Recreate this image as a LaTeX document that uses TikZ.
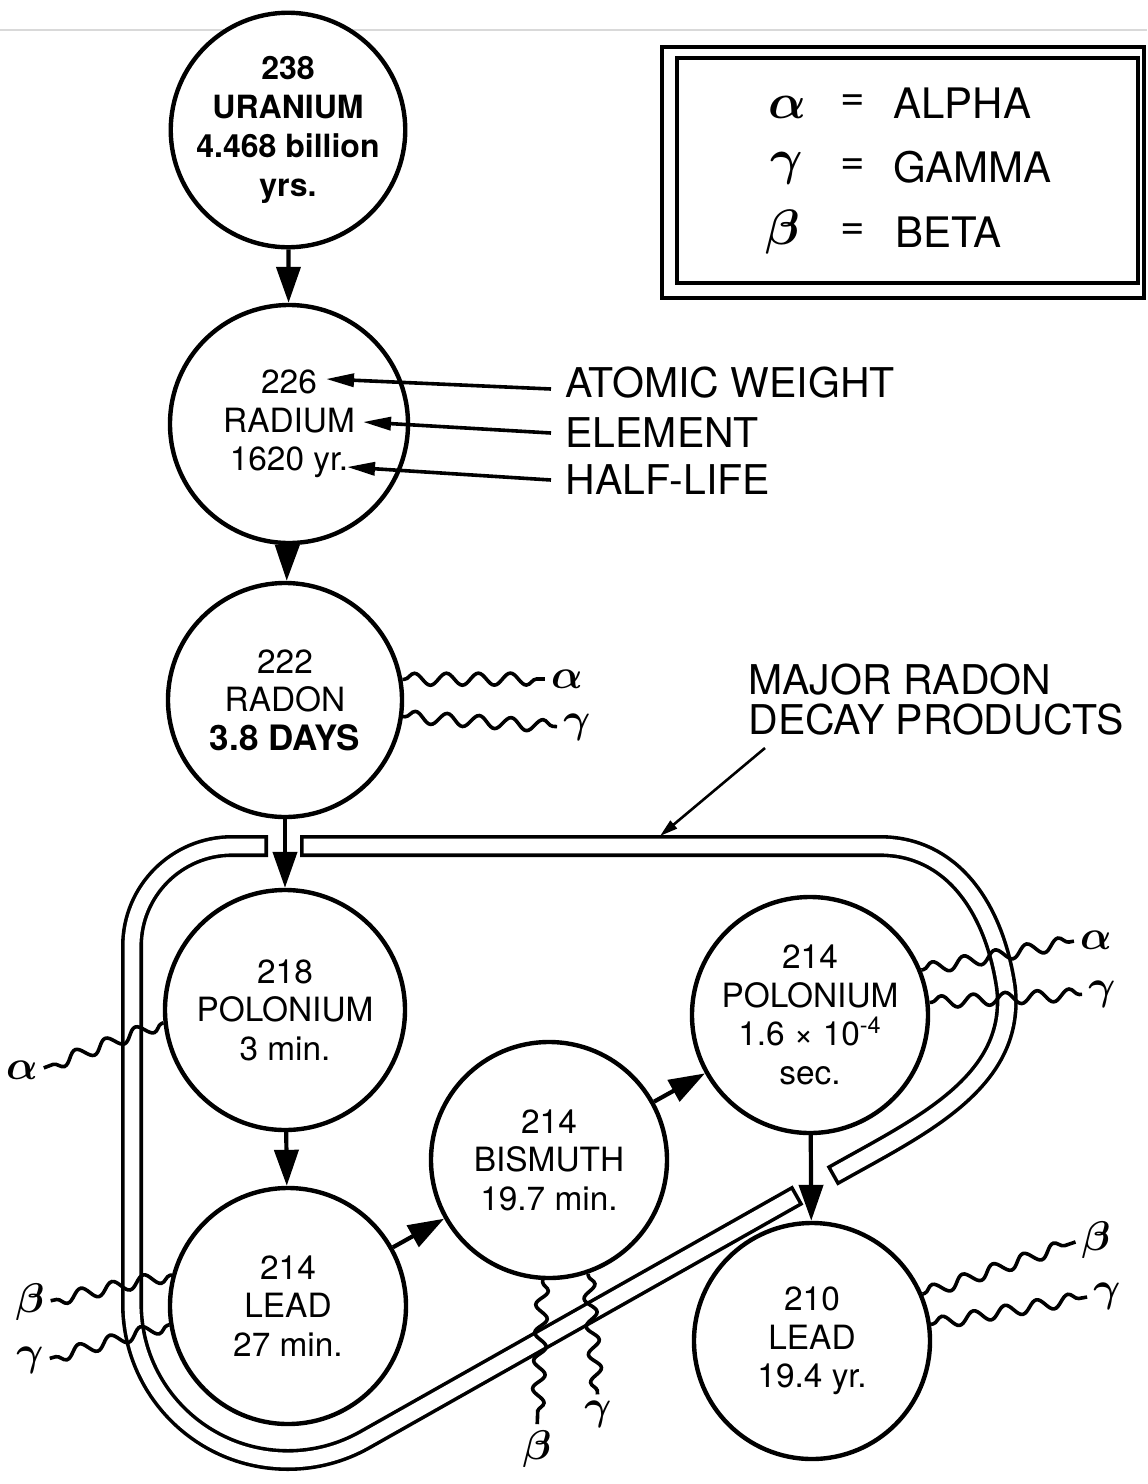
\documentclass[tikz,border=0pt]{standalone}
\usepackage{fontspec}
\setmainfont{TeX Gyre Heros}
\usetikzlibrary{arrows.meta,decorations.pathmorphing}
\newcommand{\ralpha}{{\boldmath$\alpha$}}
\newcommand{\rbeta}{{\boldmath$\beta$}}
\newcommand{\rgamma}{{\boldmath$\gamma$}}
\begin{document}
\begin{tikzpicture}[x=0.5pt,y=-0.5pt,
  nuc/.style={circle,draw,line width=2.2pt,fill=white,minimum size=118pt,inner sep=0pt,align=center,
    font=\fontsize{16.7}{19.3}\selectfont},
  arr/.style={line width=2.1pt,-{Triangle[length=18pt,width=12pt]}},
  leadarr/.style={line width=1.8pt,-{Triangle[length=14pt,width=6.5pt]}},
  smallarr/.style={line width=1.3pt,-{Triangle[length=9pt,width=5pt]}},
  wavy/.style={line width=1.8pt,decorate,decoration={snake,segment length=16pt,amplitude=3pt,pre length=1pt,post length=3pt},shorten >=3pt},
  lbl/.style={font=\fontsize{20.5}{20}\selectfont,anchor=west,inner xsep=7pt,inner ysep=0pt},
  grk/.style={font=\fontsize{22}{22}\selectfont,inner sep=0pt},
  grkbig/.style={font=\fontsize{44}{44}\selectfont,inner sep=0pt},
  legtxt/.style={font=\fontsize{21}{21}\selectfont,inner sep=0pt},
  bandout/.style={draw=black,line width=11pt},
  bandin/.style={draw=white,line width=7.4pt,shorten <=1.8pt,shorten >=1.8pt},
]
\useasboundingbox (0,0) rectangle (1147,1484);
\draw[gray!30,line width=0.8pt] (0,30) -- (1147,30);

% ---- decay-product band ----
\path[bandout] (268,846) -- (232,846) .. controls (176.8,846) and (132,890.8) .. (132,946) -- (132,1304)
  .. controls (132,1390.2) and (201.8,1460) .. (288,1460) .. controls (314.9,1460) and (341.3,1453) .. (364.7,1439.8) -- (798,1195);
\path[bandin] (268,846) -- (232,846) .. controls (176.8,846) and (132,890.8) .. (132,946) -- (132,1304)
  .. controls (132,1390.2) and (201.8,1460) .. (288,1460) .. controls (314.9,1460) and (341.3,1453) .. (364.7,1439.8) -- (798,1195);
\path[bandout] (832,1176) -- (842,1170.4) .. controls (925,1124) and (1016,1080) .. (1006,988) .. controls (994,905) and (950,846) .. (880,846) -- (300,846);
\path[bandin] (832,1176) -- (842,1170.4) .. controls (925,1124) and (1016,1080) .. (1006,988) .. controls (994,905) and (950,846) .. (880,846) -- (300,846);

% ---- nuclides ----
\node[nuc,font=\bfseries\fontsize{16}{19.5}\selectfont,minimum size=116pt] (u238) at (288,130) {238\\URANIUM\\4.468 billion\\yrs.};
\node[nuc,minimum size=119pt] (ra226) at (289,424) {226\\RADIUM\\1620 yr.};
\node[nuc,minimum size=117pt] (rn222) at (285,700) {222\\RADON\\{\bfseries\fontsize{17.5}{19.3}\selectfont 3.8 DAYS}};
\node[nuc,minimum size=120pt] (po218) at (285,1010) {218\\POLONIUM\\3 min.};
\node[nuc] (pb214) at (288,1306) {214\\LEAD\\27 min.};
\node[nuc] (bi214) at (549,1160) {214\\BISMUTH\\19.7 min.};
\node[nuc] (po214) at (810,1015) {214\\POLONIUM\\1.6 × 10\textsuperscript{-4}\\sec.};
\node[nuc] (pb210) at (812,1341) {210\\LEAD\\19.4 yr.};

% ---- decay arrows ----
\draw[arr] (u238) -- (ra226);
\draw[arr] (ra226) -- (rn222);
\draw[arr] (rn222) -- (po218);
\draw[arr] (po218) -- (pb214);
\draw[arr] (pb214) -- (bi214);
\draw[arr] (bi214) -- (po214);
\draw[arr] (po214) -- (pb210);

% ---- legend ----
\draw[line width=2.2pt] (662,47) rectangle (1144,298);
\draw[line width=1.8pt] (677,58) rectangle (1138,283);
\node[grkbig] (lga) at (787,107) {\ralpha};
\node[grkbig] (lgg) at (787,168) {\rgamma};
\node[grkbig] (lgb) at (783,232) {\rbeta};
\node[legtxt] (eqa) at (853,103) {=};
\node[legtxt] (eqg) at (853,167) {=};
\node[legtxt] (eqb) at (853,232) {=};
\node[legtxt,anchor=west] (wa) at (893,103) {ALPHA};
\node[legtxt,anchor=west] (wg) at (893,167) {GAMMA};
\node[legtxt,anchor=west] (wb) at (895,232) {BETA};

% ---- key labels ----
\node[lbl] (aw) at (551,383) {ATOMIC WEIGHT};
\node[lbl] (el) at (551,433) {ELEMENT};
\node[lbl] (hl) at (551,480) {HALF-LIFE};
\coordinate (tAW) at (326,379);
\coordinate (tEL) at (363,422);
\coordinate (tHL) at (347,467);
\draw[leadarr] ([yshift=-3pt]aw.west) -- (tAW);
\draw[leadarr] (el.west) -- (tEL);
\draw[leadarr] (hl.west) -- (tHL);

\node[lbl,align=left,inner xsep=0pt] (mr) at (748,700) {MAJOR RADON\\DECAY PRODUCTS};
\coordinate (mrtail) at (765,748);
\coordinate (mrtip) at (660,836);
\draw[smallarr] (mrtail) -- (mrtip);

% ---- emitted radiation ----
\node[grk] (rna) at (567,679) {\ralpha};
\node[grk] (rng) at (577,727) {\rgamma};
\draw[wavy] (rn222.10) -- (rna.west);
\draw[wavy] (rn222.-8) -- (rng.west);

\node[grk] (p18a) at (22,1070) {\ralpha};
\draw[wavy] (po218.186) -- (p18a.east);

\node[grk] (p14b) at (30,1302) {\rbeta};
\node[grk] (p14g) at (30,1360) {\rgamma};
\draw[wavy] (pb214.165) -- (p14b.east);
\draw[wavy] (pb214.189) -- (p14g.east);

\node[grk] (bib) at (537,1449) {\rbeta};
\node[grk] (big) at (598,1414) {\rgamma};
\draw[wavy,decoration={segment length=14pt}] (bi214.267) -- (bib.north);
\draw[wavy,decoration={segment length=14pt}] (bi214.289) -- (big.north);

\node[grk] (p4a) at (1096,940) {\ralpha};
\node[grk] (p4g) at (1102,994) {\rgamma};
\draw[wavy] (po214.22) -- (p4a.west);
\draw[wavy] (po214.6) -- (p4g.west);

\node[grk] (p10b) at (1096,1240) {\rbeta};
\node[grk] (p10g) at (1107,1296) {\rgamma};
\draw[wavy] (pb210.23) -- (p10b.west);
\draw[wavy] (pb210.8) -- (p10g.west);
\end{tikzpicture}
\end{document}
